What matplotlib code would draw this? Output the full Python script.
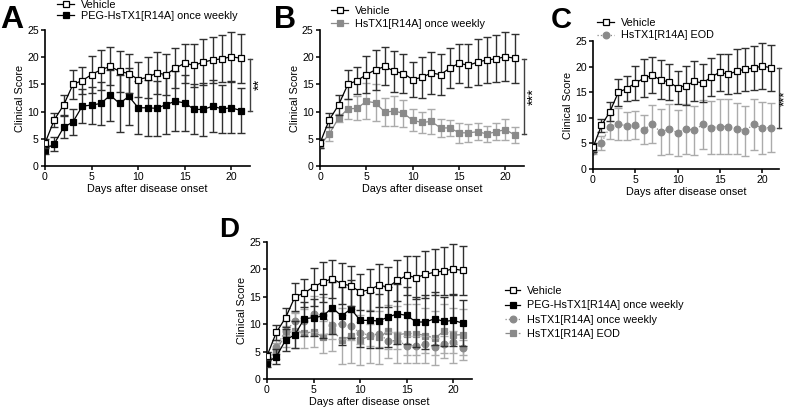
import numpy as np
import matplotlib
matplotlib.use("Agg")
import matplotlib.pyplot as plt
from matplotlib.lines import Line2D

plt.rcParams['font.family'] = ['Liberation Sans', 'DejaVu Sans']

days = np.arange(22)

veh_mean = [4.2, 8.5, 11.2, 15.0, 15.7, 16.8, 17.7, 18.3, 17.4, 17.0, 15.9,
            16.3, 17.1, 16.8, 18.0, 18.9, 18.5, 19.1, 19.5, 19.7, 20.1, 19.8]
veh_err = [0.8, 1.3, 1.8, 2.6, 2.5, 3.4, 3.7, 3.5, 3.8, 3.6, 3.3,
           3.8, 3.9, 3.7, 3.7, 3.6, 3.9, 4.3, 4.2, 4.3, 4.5, 4.5]

peg_mean = [3.0, 4.1, 7.1, 8.1, 11.0, 11.2, 11.5, 13.0, 11.5, 12.8, 10.7,
            10.7, 10.6, 11.3, 11.9, 11.6, 10.4, 10.4, 11.0, 10.5, 10.7, 10.2]
peg_err = [0.8, 1.3, 2.0, 2.4, 3.1, 3.4, 4.0, 4.7, 5.3, 5.3, 4.9,
           5.1, 5.0, 5.4, 5.5, 5.2, 4.6, 4.9, 4.8, 4.4, 4.7, 4.2]

wk_mean = [3.8, 5.9, 8.8, 10.5, 10.6, 11.9, 11.6, 9.9, 10.1, 9.7, 8.4,
           8.0, 8.2, 7.0, 7.0, 6.1, 6.1, 6.3, 5.9, 6.3, 6.7, 5.7]
wk_err = [0.5, 1.3, 0.8, 1.8, 2.2, 3.3, 3.4, 2.6, 2.8, 2.5, 2.0,
          2.0, 2.3, 1.6, 1.5, 1.8, 1.7, 1.6, 1.5, 1.6, 2.0, 1.4]

eod_mean = [3.5, 5.1, 8.3, 8.8, 8.4, 8.6, 7.7, 8.8, 7.2, 7.8, 7.1,
            7.8, 7.6, 8.7, 8.1, 8.3, 8.3, 7.9, 7.5, 8.7, 8.0, 8.1]
eod_err = [0.6, 1.4, 2.4, 3.2, 2.7, 2.7, 2.9, 3.7, 4.5, 4.9, 4.5,
           4.8, 4.8, 4.8, 5.2, 5.3, 5.4, 5.0, 4.9, 4.9, 5.0, 4.7]

lbl_veh = 'Vehicle'
lbl_peg = 'PEG-HsTX1[R14A] once weekly'
lbl_wk = 'HsTX1[R14A] once weekly'
lbl_eod = 'HsTX1[R14A] EOD'

GRAY = '#8a8a8a'
LGRAY = '#ababab'

STYLES = {
    'veh': dict(ls='-', marker='s', color='black', mfc='white', mec='black', ecolor='#303030'),
    'peg': dict(ls='-', marker='s', color='black', mfc='black', mec='black', ecolor='#303030'),
    'gsq': dict(ls='-', marker='s', color=GRAY, mfc=GRAY, mec=GRAY, ecolor=LGRAY),
    'gsq_dash': dict(ls='--', marker='s', color=GRAY, mfc=GRAY, mec=GRAY, ecolor=LGRAY),
    'gci': dict(ls=':', marker='o', color=GRAY, mfc=GRAY, mec=GRAY, ecolor=LGRAY),
}
MS = 4.8


def series(ax, mean, err, style, label, z):
    st = STYLES[style]
    ax.errorbar(days, mean, yerr=err, fmt='none', ecolor=st['ecolor'],
                elinewidth=1.0, capsize=2.6, capthick=1.0, zorder=z)
    ax.plot(days, mean, ls=st['ls'], marker=st['marker'], color=st['color'],
            mfc=st['mfc'], mec=st['mec'], ms=MS, lw=0.9, mew=0.9, zorder=z + 0.5)
    return Line2D([], [], ls=st['ls'], marker=st['marker'], color=st['color'],
                  mfc=st['mfc'], mec=st['mec'], ms=MS, lw=0.9, mew=0.9, label=label)


def style_ax(ax):
    ax.set_xlim(0, 22)
    ax.set_ylim(0, 25)
    ax.set_xticks([0, 5, 10, 15, 20])
    ax.set_yticks([0, 5, 10, 15, 20, 25])
    for s in ['top', 'right']:
        ax.spines[s].set_visible(False)
    ax.spines['left'].set_linewidth(1.2)
    ax.spines['bottom'].set_linewidth(1.2)
    ax.tick_params(labelsize=7.6, width=1.1, length=3, pad=1.5)
    ax.set_xlabel('Days after disease onset', fontsize=7.8, labelpad=1.5)
    ax.set_ylabel('Clinical Score', fontsize=7.8, labelpad=1.5)


def bracket(ax, x, y0, y1, stars, off=2, fs=10.5):
    ax.plot([x, x], [y0, y1], color='#404040', lw=1, clip_on=False)
    ax.plot([x - 0.25, x + 0.25], [y0, y0], color='#404040', lw=1, clip_on=False)
    ax.plot([x - 0.25, x + 0.25], [y1, y1], color='#404040', lw=1, clip_on=False)
    ax.annotate(stars, xy=(x, (y0 + y1) / 2), xytext=(off, 0),
                textcoords='offset points', rotation=90, fontsize=fs,
                ha='left', va='center', annotation_clip=False)


W, H = 795, 411
fig = plt.figure(figsize=(W / 100, H / 100), dpi=100)


def add_axes(l, r, t, b):
    return fig.add_axes([l / W, 1 - b / H, (r - l) / W, (b - t) / H])


def legend(handles, x, y, spacing, hl=1.6):
    fig.legend(handles=handles, loc='center left',
               bbox_to_anchor=(x / W, 1 - y / H), frameon=False, fontsize=7.8,
               handlelength=hl, handletextpad=0.6, labelspacing=spacing,
               borderpad=0, borderaxespad=0)


axA = add_axes(45, 250, 30, 166)
axB = add_axes(320, 524, 30, 166)
axC = add_axes(593, 779, 41, 169)
axD = add_axes(267, 472, 242, 379)

# A
hv = series(axA, veh_mean, veh_err, 'veh', lbl_veh, 3)
hp = series(axA, peg_mean, peg_err, 'peg', lbl_peg, 2)
style_ax(axA)
bracket(axA, 22.0, 10.2, 19.7, '**')
legend([hv, hp], 57, 10.5, 0.05)

# B
hv = series(axB, veh_mean, veh_err, 'veh', lbl_veh, 3)
hw = series(axB, wk_mean, wk_err, 'gsq', lbl_wk, 2)
style_ax(axB)
bracket(axB, 22.0, 5.8, 19.7, '***')
legend([hv, hw], 331, 17.5, 0.3)

# C
hv = series(axC, veh_mean, veh_err, 'veh', lbl_veh, 3)
he = series(axC, eod_mean, eod_err, 'gci', lbl_eod, 2)
style_ax(axC)
bracket(axC, 22.0, 8.1, 19.7, '***', off=0, fs=9.5)
legend([hv, he], 597, 29, 0.25)

# D
h1 = series(axD, veh_mean, veh_err, 'veh', lbl_veh, 4)
h2 = series(axD, peg_mean, peg_err, 'peg', lbl_peg, 3)
h3 = series(axD, wk_mean, wk_err, 'gci', lbl_wk, 2)
h4 = series(axD, eod_mean, eod_err, 'gsq_dash', lbl_eod, 1)
style_ax(axD)
legend([h1, h2, h3, h4], 505, 312.5, 0.4, hl=1.4)

for lab, x, y, fs in [('A', 0, 28, 23), ('B', 274, 28, 22),
                      ('C', 551, 28, 21), ('D', 219, 237, 20)]:
    fig.text(x / W, 1 - y / H, lab, fontsize=fs, fontweight='bold',
             ha='left', va='baseline')

fig.savefig('out.png', dpi=100)
